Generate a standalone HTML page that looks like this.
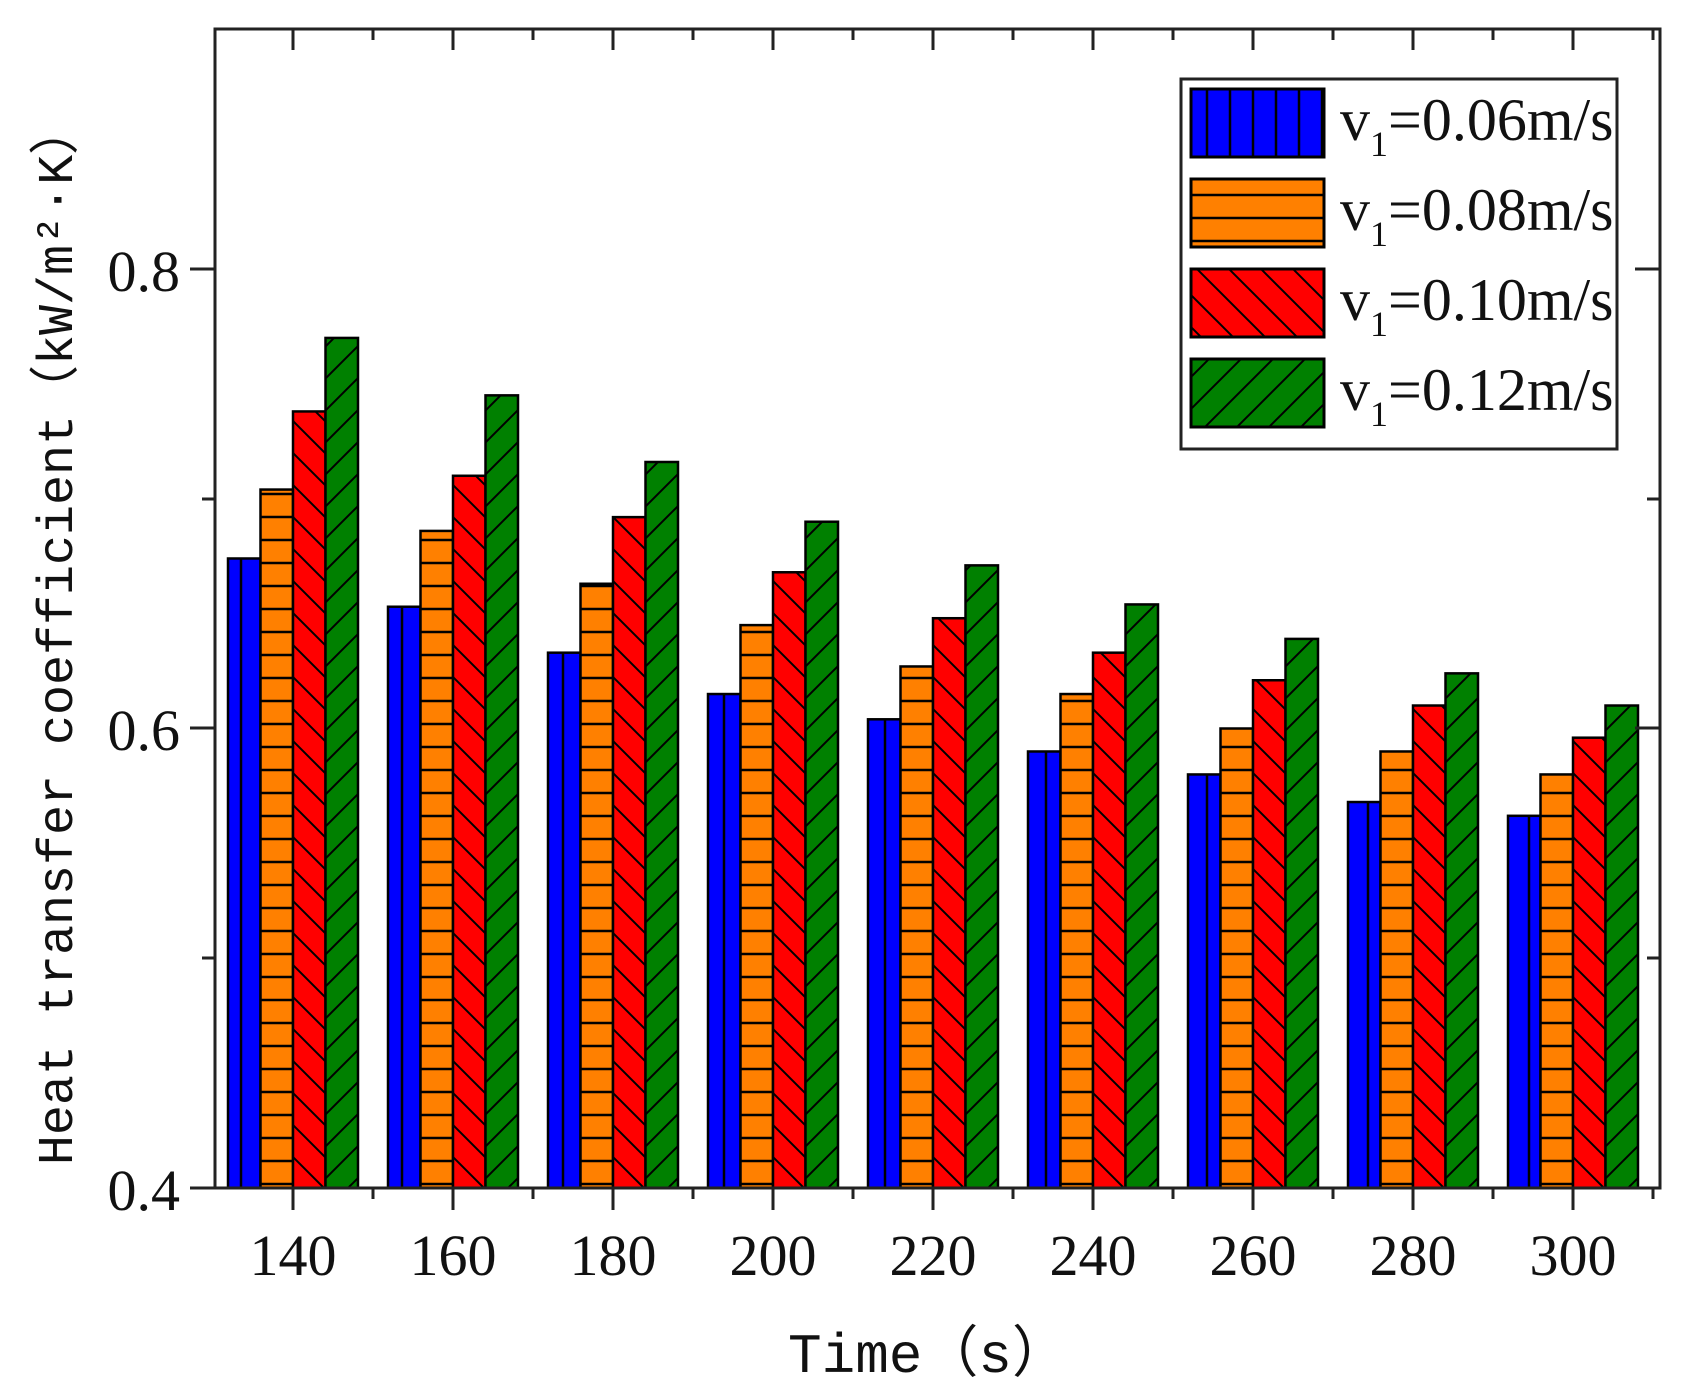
<!DOCTYPE html>
<html><head><meta charset="utf-8"><style>
html,body{margin:0;padding:0;background:#fff;}
svg{display:block;}
</style></head><body>
<svg width="1684" height="1398" viewBox="0 0 1684 1398" xmlns="http://www.w3.org/2000/svg">
<defs>
<pattern id="pb" patternUnits="userSpaceOnUse" width="23" height="23"><rect width="23" height="23" fill="#0000ff"/><line x1="11" y1="0" x2="11" y2="23" stroke="#000" stroke-width="2.5"/></pattern>
<pattern id="po" patternUnits="userSpaceOnUse" width="23" height="23"><rect width="23" height="23" fill="#ff8000"/><line x1="0" y1="11" x2="23" y2="11" stroke="#000" stroke-width="2.5"/></pattern>
<pattern id="pr" patternUnits="userSpaceOnUse" width="32" height="32"><rect width="32" height="32" fill="#ff0000"/><path d="M-8,-8 L40,40 M-8,24 L8,40 M24,-8 L40,8" stroke="#000" stroke-width="2"/></pattern>
<pattern id="pg" patternUnits="userSpaceOnUse" width="32" height="32"><rect width="32" height="32" fill="#008000"/><path d="M-8,40 L40,-8 M-8,8 L8,-8 M24,40 L40,24" stroke="#000" stroke-width="2"/></pattern>
</defs>
<g id="bars" stroke="#000" stroke-width="2.5"></g>
<g stroke="#222" stroke-width="3" fill="none">
<rect x="215" y="29" width="1445" height="1159"/>
<line x1="190" y1="1188" x2="215" y2="1188"/>
<line x1="190" y1="728" x2="215" y2="728"/>
<line x1="190" y1="269" x2="215" y2="269"/>
<line x1="202" y1="958" x2="215" y2="958"/>
<line x1="202" y1="499" x2="215" y2="499"/>
<line x1="1635" y1="728" x2="1660" y2="728"/>
<line x1="1635" y1="269" x2="1660" y2="269"/>
<line x1="1647" y1="958" x2="1660" y2="958"/>
<line x1="1647" y1="499" x2="1660" y2="499"/>
</g>
<g id="ticks" stroke="#222" stroke-width="3"></g>
<g font-family="Liberation Serif, serif" font-size="58" fill="#111" text-anchor="end">
<text x="180" y="1210">0.4</text><text x="180" y="750">0.6</text><text x="180" y="291">0.8</text>
</g>
<g id="xl" font-family="Liberation Serif, serif" font-size="58" fill="#111" text-anchor="middle"></g>
<text x="928" y="1372" font-family="Liberation Mono, 'Noto Sans CJK SC', monospace" font-size="56" fill="#111" text-anchor="middle">Time（s）</text>
<text transform="translate(72,635) rotate(-90)" font-family="Liberation Mono, 'Noto Sans CJK SC', monospace" font-size="50" fill="#111" text-anchor="middle">Heat transfer coefficient（kW/m²·K）</text>
<rect x="1181" y="79" width="436" height="370" fill="#fff" stroke="#222" stroke-width="3"/>
<g stroke="#000" stroke-width="3">
<rect x="1191" y="89" width="133" height="68" fill="url(#pb)"/>
<rect x="1191" y="179" width="133" height="68" fill="url(#po)"/>
<rect x="1191" y="269" width="133" height="68" fill="url(#pr)"/>
<rect x="1191" y="359" width="133" height="68" fill="url(#pg)"/>
</g>
<g font-family="Liberation Serif, serif" font-size="60" fill="#111">
<text x="1340" y="140">v<tspan font-size="36" dy="16">1</tspan><tspan dy="-16">=0.06m/s</tspan></text>
<text x="1340" y="230">v<tspan font-size="36" dy="16">1</tspan><tspan dy="-16">=0.08m/s</tspan></text>
<text x="1340" y="320">v<tspan font-size="36" dy="16">1</tspan><tspan dy="-16">=0.10m/s</tspan></text>
<text x="1340" y="410">v<tspan font-size="36" dy="16">1</tspan><tspan dy="-16">=0.12m/s</tspan></text>
</g>
<script>
var d=[[0.674,0.704,0.738,0.770],[0.653,0.686,0.710,0.745],[0.633,0.663,0.692,0.716],[0.615,0.645,0.668,0.690],[0.604,0.627,0.648,0.671],[0.590,0.615,0.633,0.654],[0.580,0.600,0.621,0.639],[0.568,0.590,0.610,0.624],[0.562,0.580,0.596,0.610]];
var f=['pb','po','pr','pg'],ns='http://www.w3.org/2000/svg',g=document.getElementById('bars'),t=document.getElementById('ticks'),xl=document.getElementById('xl');
function y(v){return 1188-(v-0.4)*2297.5;}
for(var i=0;i<9;i++){var c=293+160*i;
for(var k=0;k<4;k++){var r=document.createElementNS(ns,'rect');var yy=y(d[i][k]);
r.setAttribute('x',c-65+k*32.5);r.setAttribute('y',yy);r.setAttribute('width',32.5);r.setAttribute('height',1188-yy);r.setAttribute('fill','url(#'+f[k]+')');g.appendChild(r);}
var l=document.createElementNS(ns,'line');l.setAttribute('x1',c);l.setAttribute('x2',c);l.setAttribute('y1',1188);l.setAttribute('y2',1210);t.appendChild(l);
l=document.createElementNS(ns,'line');l.setAttribute('x1',c);l.setAttribute('x2',c);l.setAttribute('y1',29);l.setAttribute('y2',50);t.appendChild(l);
var m=c+80;if(m<1660){l=document.createElementNS(ns,'line');l.setAttribute('x1',m);l.setAttribute('x2',m);l.setAttribute('y1',1188);l.setAttribute('y2',1199);t.appendChild(l);
l=document.createElementNS(ns,'line');l.setAttribute('x1',m);l.setAttribute('x2',m);l.setAttribute('y1',29);l.setAttribute('y2',40);t.appendChild(l);}
var tx=document.createElementNS(ns,'text');tx.setAttribute('x',c);tx.setAttribute('y',1275);tx.textContent=140+20*i;xl.appendChild(tx);}
</script>
</svg>
</body></html>
